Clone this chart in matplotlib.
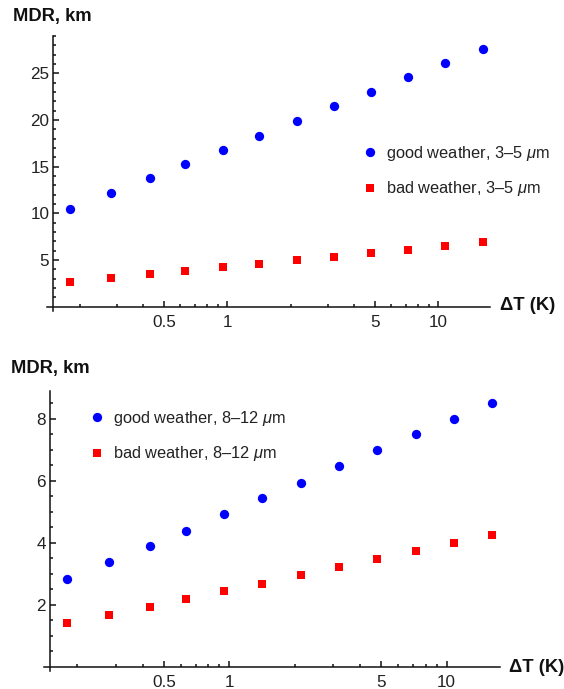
import matplotlib
matplotlib.use("Agg")
import matplotlib.pyplot as plt
from matplotlib.ticker import FixedLocator, NullFormatter, FixedFormatter
from matplotlib.lines import Line2D

plt.rcParams['font.family'] = ['Liberation Sans', 'DejaVu Sans']
plt.rcParams['mathtext.fontset'] = 'custom'
plt.rcParams['mathtext.rm'] = 'Liberation Sans'
plt.rcParams['mathtext.it'] = 'Liberation Sans:italic'

# Temperature difference (K)
delta_t = [0.18, 0.28, 0.43, 0.63, 0.95, 1.42, 2.13, 3.2, 4.8, 7.2, 10.8, 16.2]

# Maximum detection range, 3-5 um band (km)
mwir_good = [10.5, 12.2, 13.75, 15.25, 16.8, 18.3, 19.9, 21.45, 22.95, 24.6, 26.1, 27.6]
mwir_bad = [2.6, 3.05, 3.45, 3.8, 4.2, 4.6, 4.95, 5.35, 5.7, 6.1, 6.5, 6.9]

# Maximum detection range, 8-12 um band (km)
lwir_good = [2.84, 3.39, 3.91, 4.39, 4.92, 5.43, 5.93, 6.47, 6.98, 7.49, 8.0, 8.5]
lwir_bad = [1.41, 1.68, 1.93, 2.19, 2.44, 2.68, 2.96, 3.22, 3.47, 3.72, 3.99, 4.24]

x_major = [0.5, 1, 5, 10]
x_major_labels = ["0.5", "1", "5", "10"]
x_minor = [0.2, 0.3, 0.4, 0.6, 0.7, 0.8, 0.9, 2, 3, 4, 6, 7, 8, 9]

mwir_labels = ["good weather, 3\u20135 $\\mu$m", "bad weather, 3\u20135 $\\mu$m"]
lwir_labels = ["good weather, 8\u201312 $\\mu$m", "bad weather, 8\u201312 $\\mu$m"]

W, H = 564, 689
fig = plt.figure(figsize=(W / 100, H / 100), dpi=100)

TXT = "#222222"
BLUE = "#0000ff"
RED = "#ff0000"
CIRCLE_SIZE = 6.7
SQUARE_SIZE = 6.2


def px_rect(left, top, right, bottom):
    return [left / W, 1 - bottom / H, (right - left) / W, (bottom - top) / H]


def style_axes(ax, xlim, ylim, y_major, y_minor):
    ax.set_xscale("log")
    ax.set_xlim(*xlim)
    ax.set_ylim(*ylim)
    for s in ("top", "right"):
        ax.spines[s].set_visible(False)
    ax.spines["left"].set_position(("data", 0.15))
    ax.spines["bottom"].set_position(("data", 0))
    for s in ("left", "bottom"):
        ax.spines[s].set_linewidth(1.1)
        ax.spines[s].set_color("#111111")
    ax.xaxis.set_major_locator(FixedLocator(x_major))
    ax.xaxis.set_major_formatter(FixedFormatter(x_major_labels))
    ax.xaxis.set_minor_locator(FixedLocator(x_minor))
    ax.xaxis.set_minor_formatter(NullFormatter())
    ax.yaxis.set_major_locator(FixedLocator(y_major))
    ax.yaxis.set_minor_locator(FixedLocator(y_minor))
    ax.tick_params(which="both", direction="in", colors="#111111",
                   labelcolor=TXT, labelsize=12.3, width=1.1)
    ax.tick_params(which="major", length=4)
    ax.tick_params(which="minor", length=2.5)
    ax.tick_params(axis="x", which="major", pad=6)
    ax.tick_params(axis="y", which="major", pad=3)
    ax.patch.set_visible(False)


def draw_panel(rect, xlim, ylim, y_major, y_minor, good, bad, labels,
               legend_anchor, title_xy, xlabel_xy):
    ax = fig.add_axes(rect)
    style_axes(ax, xlim, ylim, y_major, y_minor)
    ax.plot(delta_t, good, "o", color=BLUE, markersize=CIRCLE_SIZE,
            markeredgewidth=0, clip_on=False)
    ax.plot(delta_t, bad, "s", color=RED, markersize=SQUARE_SIZE,
            markeredgewidth=0, clip_on=False)
    handles = [
        Line2D([], [], marker="o", linestyle="none", color=BLUE,
               markersize=CIRCLE_SIZE, markeredgewidth=0),
        Line2D([], [], marker="s", linestyle="none", color=RED,
               markersize=SQUARE_SIZE, markeredgewidth=0),
    ]
    fig.legend(handles, labels, loc="upper left",
               bbox_to_anchor=(legend_anchor[0] / W, 1 - legend_anchor[1] / H),
               bbox_transform=fig.transFigure, frameon=False,
               borderpad=0, borderaxespad=0, handlelength=1.0,
               handletextpad=0.45, labelspacing=1.0,
               prop={"size": 11.8}, labelcolor=TXT)
    fig.text(title_xy[0] / W, 1 - title_xy[1] / H, "MDR, km",
             fontsize=13.2, fontweight="bold", color="#111111",
             ha="left", va="center")
    fig.text(xlabel_xy[0] / W, 1 - xlabel_xy[1] / H, "\u0394T (K)",
             fontsize=13.2, fontweight="bold", color="#111111",
             ha="left", va="center")
    return ax


# Upper panel: 3-5 um
draw_panel(px_rect(47.1, 35.9, 490.1, 310.7), (0.14, 17.6), (-0.45, 29.0),
           [5, 10, 15, 20, 25],
           [v for v in range(1, 30) if v % 5 != 0],
           mwir_good, mwir_bad, mwir_labels,
           legend_anchor=(362, 144), title_xy=(13, 17), xlabel_xy=(500, 306))

# Lower panel: 8-12 um
draw_panel(px_rect(43.6, 390.6, 500.1, 671.0), (0.14, 17.6), (-0.13, 8.9),
           [2, 4, 6, 8],
           [v * 0.5 for v in range(1, 18) if v % 4 != 0],
           lwir_good, lwir_bad, lwir_labels,
           legend_anchor=(89, 409), title_xy=(11, 368), xlabel_xy=(509, 667))

fig.savefig("out.png", dpi=100)
